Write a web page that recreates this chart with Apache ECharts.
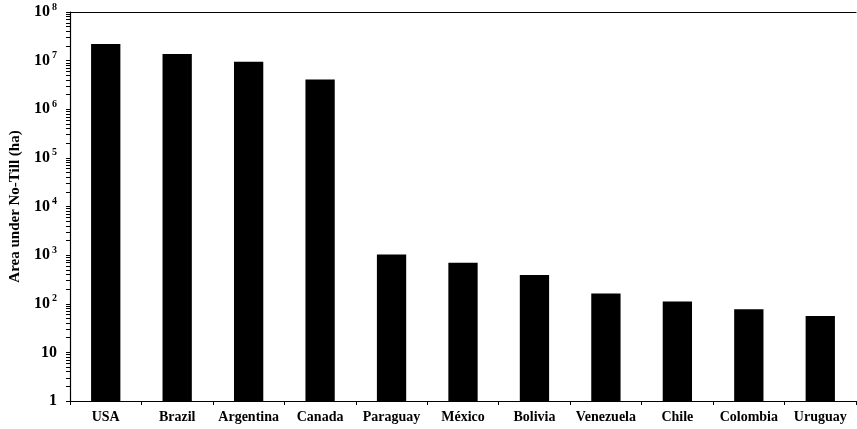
<!DOCTYPE html>
<html>
<head>
<meta charset="utf-8">
<script src="https://cdn.jsdelivr.net/npm/echarts@6/dist/echarts.min.js"></script>
<style>html,body{margin:0;padding:0;background:#fff}#c{width:857px;height:429px}</style>
</head>
<body>
<div id="c"></div>
<script>
var categories = ['USA','Brazil','Argentina','Canada','Paraguay','México','Bolivia','Venezuela','Chile','Colombia','Uruguay'];
var areaHa = [22000000, 13700000, 9500000, 4100000, 1030, 700, 390, 163, 111, 77, 56];
var majorTicks = [1, 10, 100, 1000, 10000, 100000, 1000000, 10000000, 100000000];
var yTitle = 'Area under No-Till (ha)';

// log-spaced tick positions (1..9 x 10^n), expressed as exponents for a linear helper axis
var tickExponents = [];
for (var e = 0; e < 8; e++) {
  for (var m = 1; m <= 9; m++) tickExponents.push(Math.log10(m * Math.pow(10, e)));
}
tickExponents.push(8);

var font = '"Liberation Serif", "Times New Roman", serif';
var chart = echarts.init(document.getElementById('c'), null, {renderer: 'canvas'});
chart.setOption({
  animation: false,
  backgroundColor: '#fff',
  grid: {left: 70, right: 1, top: 12, bottom: 28, containLabel: false, outerBoundsMode: 'none'},
  xAxis: [{
    type: 'category',
    data: categories,
    axisLine: {show: true, lineStyle: {color: '#000', width: 1.2}},
    axisTick: {show: true, alignWithLabel: false, length: 4, lineStyle: {color: '#000'}},
    axisLabel: {color: '#000', fontFamily: font, fontWeight: 'bold', fontSize: 14, margin: 9, interval: 0},
    splitLine: {show: false}
  }, {
    type: 'category',
    position: 'top',
    data: categories,
    axisLine: {show: true, lineStyle: {color: '#000', width: 1.2}},
    axisTick: {show: false},
    axisLabel: {show: false}
  }],
  yAxis: [{
    type: 'log',
    logBase: 10,
    min: 1,
    max: 100000000,
    name: yTitle,
    nameLocation: 'middle',
    nameGap: 47,
    nameTextStyle: {color: '#000', fontFamily: font, fontWeight: 'bold', fontSize: 15},
    axisLine: {show: true, lineStyle: {color: '#000', width: 1.2}},
    axisTick: {show: false},
    axisLabel: {
      customValues: majorTicks,
      color: '#000', fontFamily: font, fontWeight: 'bold', fontSize: 16, margin: 13,
      formatter: function (v) {
        var n = Math.round(Math.log10(v));
        if (n === 0) return '{b|1}';
        if (n === 1) return '{b|10}';
        return '{b|10}{s|' + n + '}';
      },
      rich: {
        b: {fontFamily: font, fontWeight: 'bold', fontSize: 16, color: '#000'},
        s: {fontFamily: font, fontWeight: 'bold', fontSize: 10, color: '#000', padding: [0, 0, 10, 2]}
      }
    },
    splitLine: {show: false}
  }, {
    type: 'value',
    min: 0,
    max: 8,
    position: 'left',
    offset: 0,
    axisLine: {show: false},
    axisTick: {show: true, length: 4, customValues: tickExponents, lineStyle: {color: '#000'}},
    axisLabel: {show: false},
    splitLine: {show: false}
  }],
  series: [{
    type: 'bar',
    data: areaHa,
    barWidth: '41%',
    itemStyle: {color: '#000'}
  }]
});
</script>
</body>
</html>
